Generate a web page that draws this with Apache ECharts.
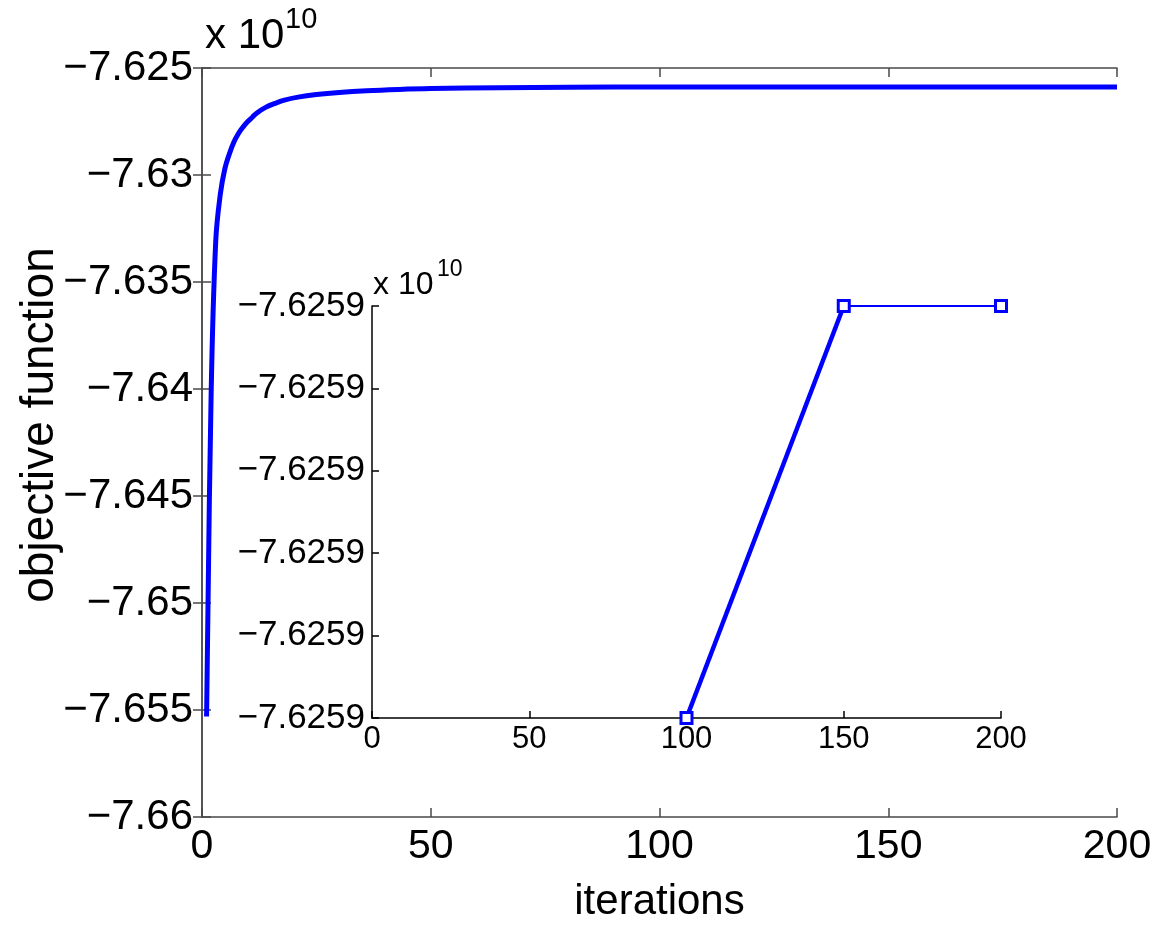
<!DOCTYPE html>
<html>
<head>
<meta charset="utf-8">
<script src="https://cdn.jsdelivr.net/npm/echarts@6/dist/echarts.min.js"></script>
<style>
  html, body { margin: 0; padding: 0; background: #fff; }
  #chart { width: 1166px; height: 925px; }
</style>
</head>
<body>
<div id="chart"></div>
<script>
// main curve, objective (x 10^10) per iteration
var iterations = [1, 2, 3, 4, 5, 6, 7, 8, 9, 10, 11, 12, 14, 16, 18, 21, 25, 30, 36, 43, 50, 65, 80, 100, 130, 160, 200];
var objective = [-7.6553, -7.6402, -7.6331, -7.6309, -7.6297, -7.6290, -7.62845, -7.62805, -7.62775, -7.6275,
  -7.6273, -7.6271, -7.62683, -7.62665, -7.6265, -7.62636, -7.62624, -7.62614, -7.62606, -7.62600,
  -7.62596, -7.62592, -7.62590, -7.62589, -7.62589, -7.62589, -7.62589];
var xTicks = [0, 50, 100, 150, 200];
var yTicks = [-7.66, -7.625];

// inset, zoom on iterations 100..200
var insetIter = [100, 150, 200];
var insetObj = [-7.625895, -7.62589, -7.62589];
var insetY = [-7.625895, -7.62589];

var font = 'Liberation Sans, Arial, Helvetica, sans-serif';
var blue = '#0000ff';
var axisGrey = '#4a4a4a';

function pairs(xs, ys) {
  var out = [];
  for (var i = 0; i < xs.length; i++) out.push([xs[i], ys[i]]);
  return out;
}
function minus(s) { return s.replace('-', '\u2212'); }

var chart = echarts.init(document.getElementById('chart'));

var mainX = {
  type: 'value', min: xTicks[0], max: xTicks[xTicks.length - 1], interval: 50,
  gridIndex: 0,
  axisLine: { lineStyle: { color: axisGrey, width: 1.5 } },
  axisTick: { inside: true, length: 9, lineStyle: { color: axisGrey, width: 1.5 } },
  splitLine: { show: false }
};
var mainY = {
  type: 'value', min: yTicks[0], max: yTicks[1], interval: 0.005,
  gridIndex: 0,
  axisLine: { show: true, lineStyle: { color: axisGrey, width: 1.5 } },
  axisTick: { show: true, inside: true, length: 9, lineStyle: { color: axisGrey, width: 1.5 } },
  splitLine: { show: false }
};

var option = {
  backgroundColor: '#fff',
  animation: false,
  textStyle: { fontFamily: font },
  grid: [
    { left: 202, top: 68, right: 49, bottom: 108, outerBoundsMode: 'none', containLabel: false },
    { left: 372, top: 306, width: 629, height: 412, outerBoundsMode: 'none', containLabel: false }
  ],
  xAxis: [
    Object.assign({}, mainX, {
      position: 'bottom',
      axisLabel: { color: '#000', fontSize: 41, margin: 9, fontFamily: font },
      name: 'iterations', nameLocation: 'middle', nameGap: 64,
      nameTextStyle: { color: '#000', fontSize: 42, fontFamily: font }
    }),
    Object.assign({}, mainX, { position: 'top', axisLabel: { show: false } }),
    {
      type: 'value', min: insetIter[0] - 100, max: insetIter[2], interval: 50, gridIndex: 1,
      axisLine: { lineStyle: { color: '#000', width: 1.5 } },
      axisTick: { inside: true, length: 7, lineStyle: { color: '#000', width: 1.5 } },
      axisLabel: { color: '#000', fontSize: 31, margin: 6, fontFamily: font },
      splitLine: { show: false }
    }
  ],
  yAxis: [
    Object.assign({}, mainY, {
      position: 'left',
      axisLabel: {
        color: '#000', fontSize: 42, margin: 9, fontFamily: font,
        formatter: function (v) { return minus(String(parseFloat(v.toFixed(3)))); }
      }
    }),
    Object.assign({}, mainY, { position: 'right', axisLabel: { show: false } }),
    {
      type: 'value', min: insetY[0], max: insetY[1], interval: 0.000001, gridIndex: 1,
      axisLine: { show: true, lineStyle: { color: '#000', width: 1.5 } },
      axisTick: { show: true, inside: true, length: 7, lineStyle: { color: '#000', width: 1.5 } },
      axisLabel: {
        color: '#000', fontSize: 35, margin: 7, fontFamily: font,
        formatter: function (v) { return minus(v.toFixed(4)); }
      },
      splitLine: { show: false }
    }
  ],
  graphic: [
    {
      type: 'text', x: 40, y: 425, rotation: Math.PI / 2,
      style: { text: 'objective function', fontSize: 46, fontFamily: font, fill: '#000',
        align: 'center', verticalAlign: 'middle' }
    },
    { type: 'text', left: 205, top: 15, style: { text: 'x 10', fontSize: 42, fontFamily: font, fill: '#000' } },
    { type: 'text', left: 285, top: 5, style: { text: '10', fontSize: 29, fontFamily: font, fill: '#000' } },
    { type: 'text', left: 373, top: 269, style: { text: 'x 10', fontSize: 32, fontFamily: font, fill: '#000' } },
    { type: 'text', left: 437, top: 258, style: { text: '10', fontSize: 23, fontFamily: font, fill: '#000' } }
  ],
  series: [
    {
      type: 'line', xAxisIndex: 0, yAxisIndex: 0,
      data: pairs(iterations, objective),
      smooth: 0.4,
      showSymbol: false,
      lineStyle: { color: blue, width: 5 },
      z: 3
    },
    {
      type: 'line', xAxisIndex: 2, yAxisIndex: 2,
      data: pairs(insetIter.slice(0, 2), insetObj.slice(0, 2)),
      showSymbol: false,
      lineStyle: { color: blue, width: 4.5 },
      z: 3
    },
    {
      type: 'line', xAxisIndex: 2, yAxisIndex: 2,
      data: pairs(insetIter.slice(1), insetObj.slice(1)),
      showSymbol: false,
      lineStyle: { color: blue, width: 2 },
      z: 3
    },
    {
      type: 'scatter', xAxisIndex: 2, yAxisIndex: 2,
      data: pairs(insetIter, insetObj),
      symbol: 'rect', symbolSize: 11,
      itemStyle: { color: '#fff', borderColor: blue, borderWidth: 3, opacity: 1 },
      z: 4
    }
  ]
};

chart.setOption(option);
</script>
</body>
</html>
